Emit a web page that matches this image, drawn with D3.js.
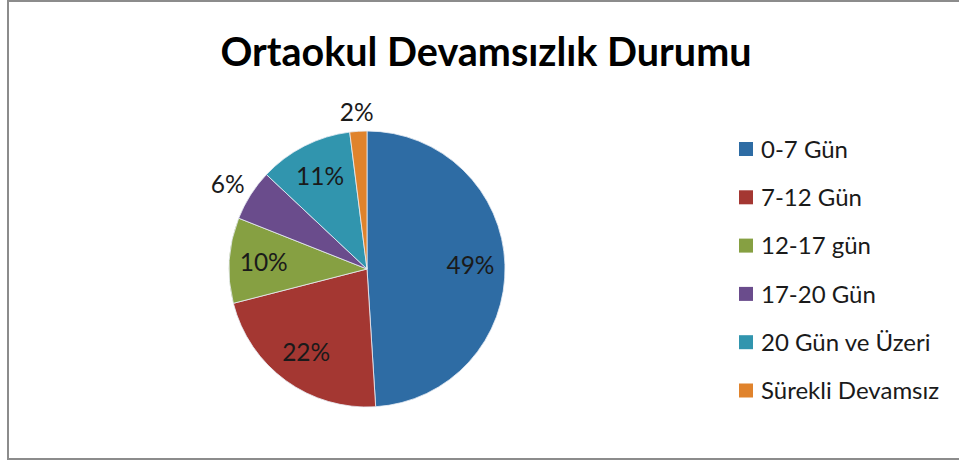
<!DOCTYPE html>
<html>
<head>
<meta charset="utf-8">
<script src="https://cdn.jsdelivr.net/npm/d3@7"></script>
<style>
  body { margin: 0; background: #fff; }
  text { font-family: Lato, "Open Sans", sans-serif; fill: #1a1a1a; }
</style>
</head>
<body>
<div id="chart"></div>
<script>
// chart data
var title = 'Ortaokul Devamsızlık Durumu';
var categories = ['0-7 Gün', '7-12 Gün', '12-17 gün', '17-20 Gün', '20 Gün ve Üzeri', 'Sürekli Devamsız'];
var values = [49, 22, 10, 6, 11, 2];
var colors = ['#2e6ca4', '#a43732', '#86a042', '#6a4c8c', '#3195ae', '#e0832c'];

var width = 959, height = 461;
var cx = 367, cy = 269, radius = 138;

var svg = d3.select('#chart').append('svg')
	.attr('width', width).attr('height', height);

// outer frame (right side runs off the picture)
svg.append('rect')
	.attr('x', 8).attr('y', 1)
	.attr('width', width + 10).attr('height', 458)
	.attr('fill', 'none')
	.attr('stroke', '#8c8c8c')
	.attr('stroke-width', 2);

svg.append('text')
	.attr('x', 486).attr('y', 66)
	.attr('text-anchor', 'middle')
	.style('font-size', '39.5px')
	.style('font-weight', 'bold')
	.style('fill', '#000')
	.text(title);

var data = categories.map(function(c, i) { return {name: c, value: values[i], color: colors[i]}; });

var pie = d3.pie().sort(null).value(function(d) { return d.value; });
var arcs = pie(data);
var arc = d3.arc().innerRadius(0).outerRadius(radius);
var labelArc = d3.arc().innerRadius(radius * 0.75).outerRadius(radius * 0.75);

var g = svg.append('g').attr('transform', 'translate(' + cx + ',' + cy + ')');

g.selectAll('path')
	.data(arcs)
	.enter().append('path')
	.attr('d', arc)
	.attr('fill', function(d) { return d.data.color; })
	.attr('stroke', '#e8eef5')
	.attr('stroke-width', 0.8);

var total = d3.sum(values);

// small slices get their label outside the pie
g.selectAll('.lbl')
	.data(arcs)
	.enter().append('text')
	.attr('class', 'lbl')
	.attr('text-anchor', 'middle')
	.attr('dy', '0.35em')
	.style('font-size', '24.5px')
	.attr('transform', function(d) {
		var a = (d.startAngle + d.endAngle) / 2;
		var p;
		if (d.data.value / total < 0.08) {
			var r = radius + 10;
			p = [Math.sin(a) * (r + 17), -Math.cos(a) * (r + 9)];
		} else {
			p = labelArc.centroid(d);
		}
		return 'translate(' + p[0] + ',' + p[1] + ')';
	})
	.text(function(d) { return Math.round(d.data.value / total * 100) + '%'; });

// legend
var legend = svg.append('g').attr('transform', 'translate(739,149)');
var item = legend.selectAll('g')
	.data(data)
	.enter().append('g')
	.attr('transform', function(d, i) { return 'translate(0,' + (i * 48.3) + ')'; });

item.append('rect')
	.attr('x', 0).attr('y', -7)
	.attr('width', 14).attr('height', 14)
	.attr('fill', function(d) { return d.color; });

item.append('text')
	.attr('x', 22).attr('y', 0)
	.attr('dy', '0.36em')
	.style('font-size', '24px')
	.text(function(d) { return d.name; });
</script>
</body>
</html>
